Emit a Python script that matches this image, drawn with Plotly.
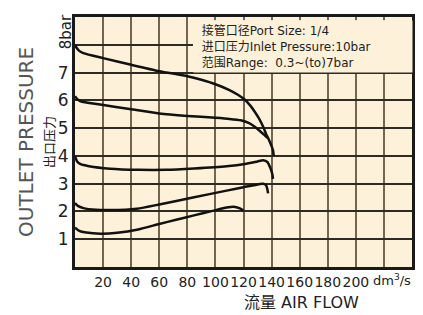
import plotly.graph_objects as go

# ---- data ----
c1_x = [0, 1, 3, 6, 20, 40, 60, 80, 90, 100, 110, 116, 121, 125, 128, 131, 134, 136, 138, 140, 141, 141.5]
c1_y = [8.0, 7.9, 7.78, 7.7, 7.52, 7.28, 7.05, 6.87, 6.74, 6.58, 6.37, 6.2, 6.02, 5.8, 5.59, 5.35, 5.05, 4.8, 4.59, 4.35, 4.2, 4.0]

c2_x = [0, 1.5, 4, 18, 40, 60, 80, 100, 110, 118, 124, 128, 132, 135, 137]
c2_y = [6.15, 6.05, 5.96, 5.85, 5.68, 5.53, 5.44, 5.37, 5.33, 5.28, 5.18, 5.05, 4.88, 4.75, 4.65]

c3_x = [0, 1.5, 4, 10, 25, 45, 65, 85, 108, 121, 130, 134, 137, 139, 140.5, 141]
c3_y = [4.0, 3.8, 3.7, 3.63, 3.54, 3.5, 3.5, 3.55, 3.63, 3.71, 3.8, 3.84, 3.78, 3.58, 3.35, 3.17]

c4_x = [0, 2, 6, 15, 25, 44, 60, 84, 108, 120, 131, 134, 136, 137, 137.5]
c4_y = [2.3, 2.2, 2.12, 2.06, 2.05, 2.1, 2.25, 2.5, 2.75, 2.87, 2.98, 3.0, 2.95, 2.8, 2.65]

c5_x = [0, 3, 8, 18, 30, 45, 60, 72, 84, 98, 108, 113, 117, 120]
c5_y = [1.42, 1.3, 1.24, 1.2, 1.23, 1.35, 1.55, 1.7, 1.85, 2.02, 2.14, 2.17, 2.12, 2.03]

x_ticks = [20, 40, 60, 80, 100, 120, 140, 160, 180, 200, 220]
x_ticktext = ["20", "40", "60", "80", "100", "120", "140", "160", "180", "200", ""]
y_ticks = [1, 2, 3, 4, 5, 6, 7, 8]
y_ticktext = ["1", "2", "3", "4", "5", "6", "7", ""]

info_lines = ["接管口径Port Size: 1/4",
              "进口压力Inlet Pressure:10bar",
              "范围Range:  0.3~(to)7bar"]

# extent of the legend panel (data units) that hides the grid behind the text
panel_x = [84, 84, 239, 239]
panel_y = [7.1, 8.88, 8.88, 7.1]

CREAM = "#fdf1da"
FONT = "DejaVu Sans, Noto Sans CJK SC, sans-serif"

fig = go.Figure()
# cream panel behind the info text
fig.add_trace(go.Scatter(x=panel_x, y=panel_y, mode="lines", fill="toself",
                         fillcolor=CREAM, line=dict(width=0, color=CREAM),
                         showlegend=False, hoverinfo="skip"))
for xs, ys in [(c1_x, c1_y), (c2_x, c2_y), (c3_x, c3_y), (c4_x, c4_y), (c5_x, c5_y)]:
    fig.add_trace(go.Scatter(x=xs, y=ys, mode="lines",
                             line=dict(color="#111111", width=2.5, shape="spline", smoothing=0.6),
                             showlegend=False))

fig.update_layout(
    width=415, height=307,
    margin=dict(l=67, r=11, t=6, b=48, pad=0),
    paper_bgcolor="#ffffff",
    plot_bgcolor=CREAM,
    font=dict(family=FONT, color="#222222"),
    showlegend=False,
)

fig.update_xaxes(
    range=[0, 240], tickmode="array", tickvals=x_ticks, ticktext=x_ticktext, tickangle=0,
    tickfont=dict(size=14, color="#222222"),
    showgrid=True, gridcolor="#75654f", gridwidth=2,
    showline=True, linecolor="#1a1a1a", linewidth=3, mirror=True,
    zeroline=False,
)
fig.update_yaxes(
    range=[0, 9], tickmode="array", tickvals=y_ticks, ticktext=y_ticktext,
    tickfont=dict(size=17, color="#222222"),
    showgrid=True, gridcolor="#2e2a26", gridwidth=2,
    showline=True, linecolor="#1a1a1a", linewidth=3, mirror=True,
    zeroline=False,
)

# info text
info_text = "<br>".join("\u00a0\u00a0" + t for t in info_lines)
fig.add_annotation(x=84, y=8.89, xref="x", yref="y", text=info_text, showarrow=False,
                   xanchor="left", yanchor="top", align="left", valign="middle",
                   bgcolor=CREAM, borderpad=0, width=218, height=51,
                   font=dict(size=12, color="#222222", family=FONT))

# 8bar label (rotated)
fig.add_annotation(x=0, y=7.75, xref="paper", yref="y", text="8bar", showarrow=False,
                   textangle=-90, xanchor="center", yanchor="bottom", xshift=-9,
                   font=dict(size=15, color="#222222"))

# y titles
fig.add_annotation(x=0, y=0.5, xref="paper", yref="paper", text="OUTLET PRESSURE",
                   showarrow=False, textangle=-90, xanchor="center", yanchor="middle",
                   xshift=-49, font=dict(size=20, color="#555555", family="DejaVu Sans, sans-serif"))
fig.add_annotation(x=0, y=0.5, xref="paper", yref="paper", text="出口压力",
                   showarrow=False, textangle=-90, xanchor="center", yanchor="middle",
                   xshift=-27, font=dict(size=13, color="#222222", family="Noto Sans CJK SC"))

# x unit and title
fig.add_annotation(x=1, y=-0.05, xref="paper", yref="paper", text="dm<sup>3</sup>/s",
                   showarrow=False, xanchor="right", yanchor="middle", xshift=1,
                   font=dict(size=13, color="#222222"))
fig.add_annotation(x=161, y=-0.143, xref="x", yref="paper", text="流量 AIR FLOW",
                   showarrow=False, xanchor="center", yanchor="middle",
                   font=dict(size=16, color="#222222"))

fig.write_html("out.html")
